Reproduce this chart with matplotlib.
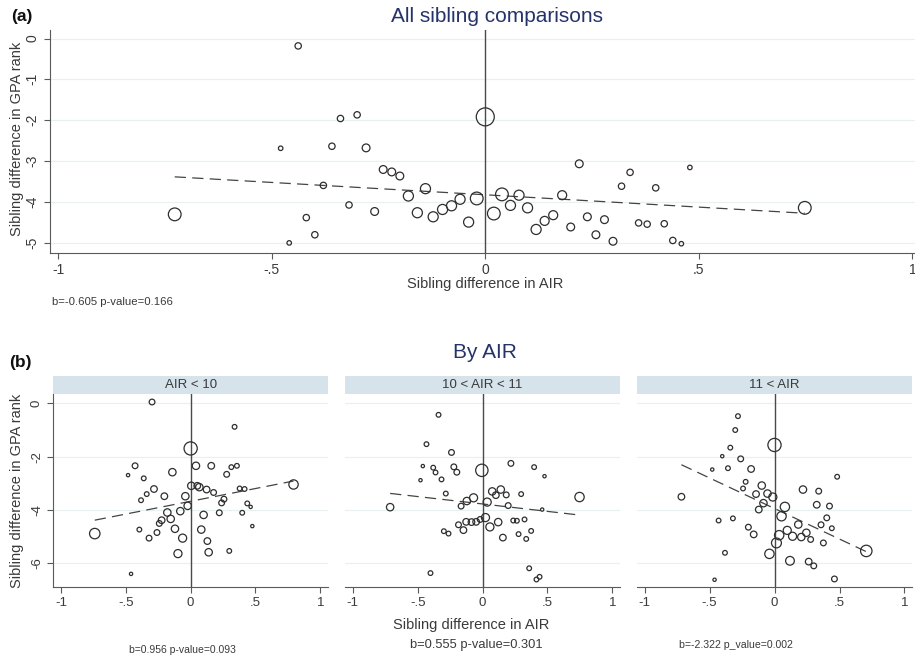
import numpy as np
import matplotlib.pyplot as plt

W, H = 915, 656

# ---- panel (a): all sibling comparisons ----
a_x = [-0.438, -0.479, -0.339, -0.300, -0.359, -0.279, -0.239, -0.219, -0.200, -0.379,
       -0.140, -0.180, -0.319, -0.259, -0.159, -0.122, -0.100, -0.079, -0.727, -0.419,
       -0.399, -0.459, 0.000, 0.220, 0.339, 0.479, 0.319, 0.399, -0.059, -0.020,
       -0.039, 0.020, 0.039, 0.079, 0.059, 0.099, 0.180, 0.119, 0.139, 0.159,
       0.200, 0.239, 0.279, 0.259, 0.299, 0.359, 0.379, 0.419, 0.439, 0.459, 0.748]
a_y = [-0.18, -2.69, -1.96, -1.87, -2.64, -2.68, -3.21, -3.27, -3.37, -3.60,
       -3.68, -3.86, -4.08, -4.24, -4.27, -4.37, -4.19, -4.10, -4.31, -4.39,
       -4.81, -5.01, -1.92, -3.07, -3.28, -3.16, -3.62, -3.66, -3.94, -3.92,
       -4.50, -4.29, -3.82, -3.84, -4.09, -4.15, -3.84, -4.68, -4.47, -4.33,
       -4.62, -4.37, -4.44, -4.81, -4.97, -4.52, -4.55, -4.54, -4.95, -5.03, -4.15]
a_w = [2, 1, 2, 2, 2, 3, 3, 3, 3, 2,
       5, 5, 2, 3, 5, 5, 5, 5, 8, 2,
       2, 1, 16, 3, 2, 1, 2, 2, 5, 8,
       5, 8, 8, 5, 5, 5, 4, 5, 4, 4,
       3, 3, 3, 3, 3, 2, 2, 2, 2, 1, 8]
a_fit = (-3.83, -0.605)
a_note = "b=-0.605 p-value=0.166"

# ---- panel (b): by AIR ----
strip_labels = ["AIR < 10", "10 < AIR < 11", "11 < AIR"]

b1_x = [-0.298, 0.339, 0.000, -0.429, -0.483, -0.362, -0.141, 0.041, 0.159, 0.314,
        0.357, 0.278, -0.283, -0.203, -0.339, -0.383, -0.041, 0.005, 0.051, 0.067,
        0.123, 0.177, 0.378, 0.416, 0.794, 0.257, 0.239, 0.437, 0.463, -0.023,
        -0.080, -0.180, 0.100, 0.221, 0.398, -0.154, -0.224, -0.242, -0.121, 0.082,
        -0.396, -0.260, -0.321, -0.062, -0.740, 0.476, 0.129, -0.098, 0.139, 0.298, -0.460]
b1_y = [0.05, -0.88, -1.69, -2.34, -2.69, -2.81, -2.58, -2.34, -2.34, -2.39,
        -2.34, -2.66, -3.21, -3.48, -3.40, -3.63, -3.48, -3.09, -3.09, -3.14,
        -3.23, -3.34, -3.19, -3.21, -3.04, -3.59, -3.73, -3.75, -3.88, -3.84,
        -4.04, -4.09, -4.18, -4.10, -4.10, -4.33, -4.38, -4.50, -4.70, -4.73,
        -4.73, -4.84, -5.05, -5.05, -4.88, -4.60, -5.16, -5.63, -5.58, -5.53, -6.39]
b1_w = [3, 2, 16, 3, 1, 2, 5, 5, 4, 2,
        2, 3, 4, 4, 2, 2, 5, 5, 4, 5,
        4, 3, 2, 2, 8, 3, 3, 2, 1, 5,
        5, 5, 5, 3, 2, 5, 4, 3, 5, 5,
        2, 3, 3, 6, 10, 1, 4, 6, 5, 2, 1]

b2_x = [-0.339, -0.432, -0.239, -0.460, -0.380, -0.362, -0.221, -0.198, -0.478, -0.316,
        -0.005, 0.219, 0.398, 0.478, -0.283, 0.075, 0.141, 0.103, 0.183, 0.298,
        0.748, -0.069, 0.036, -0.121, -0.165, 0.198, -0.712, 0.460, 0.023, -0.018,
        -0.049, -0.085, -0.126, -0.185, -0.147, 0.057, 0.121, 0.237, 0.265, 0.324,
        -0.298, -0.262, 0.157, 0.278, 0.375, 0.337, -0.401, 0.360, 0.440, 0.416]
b2_y = [-0.43, -1.53, -1.84, -2.35, -2.41, -2.59, -2.38, -2.58, -2.88, -2.85,
        -2.51, -2.25, -2.39, -2.73, -3.38, -3.30, -3.23, -3.44, -3.43, -3.40,
        -3.51, -3.54, -3.70, -3.66, -3.85, -3.83, -3.89, -3.98, -4.28, -4.35,
        -4.44, -4.45, -4.44, -4.55, -4.75, -4.63, -4.45, -4.39, -4.40, -4.35,
        -4.79, -4.88, -5.03, -4.90, -4.78, -5.08, -6.36, -6.18, -6.50, -6.60]
b2_w = [2, 2, 3, 1, 2, 2, 3, 3, 1, 2,
        14, 3, 2, 1, 2, 5, 5, 4, 3, 2,
        8, 6, 6, 5, 3, 3, 5, 1, 6, 3,
        4, 4, 4, 3, 4, 6, 5, 2, 2, 2,
        2, 2, 4, 2, 2, 2, 2, 2, 2, 2]

b3_x = [-0.281, -0.302, 0.000, -0.340, -0.402, -0.260, -0.358, -0.479, -0.180, 0.482,
        -0.222, -0.242, -0.098, -0.142, -0.054, -0.013, 0.219, 0.340, -0.716, -0.085,
        -0.121, 0.080, 0.325, 0.423, 0.054, 0.402, 0.358, 0.441, -0.430, -0.320,
        -0.201, -0.160, 0.183, 0.098, 0.036, 0.015, 0.139, 0.206, 0.245, 0.278,
        0.376, 0.706, -0.381, -0.039, 0.119, 0.263, 0.302, 0.461, -0.461]
b3_y = [-0.48, -1.00, -1.56, -1.66, -1.98, -2.08, -2.43, -2.48, -2.46, -2.75,
        -2.94, -3.19, -3.08, -3.40, -3.38, -3.51, -3.23, -3.29, -3.50, -3.74,
        -3.98, -3.88, -3.80, -3.85, -4.23, -4.29, -4.55, -4.68, -4.39, -4.31,
        -4.64, -4.91, -4.54, -4.76, -4.94, -5.23, -4.98, -5.01, -4.85, -5.10,
        -5.23, -5.53, -5.60, -5.64, -5.90, -5.93, -6.09, -6.58, -6.61]
b3_w = [2, 2, 16, 2, 1, 3, 2, 1, 4, 2,
        2, 2, 5, 4, 5, 6, 5, 3, 4, 5,
        4, 8, 4, 3, 8, 3, 3, 2, 2, 2,
        3, 4, 5, 6, 8, 9, 6, 5, 5, 3,
        3, 12, 2, 8, 7, 4, 3, 3, 1]

b_fits = [(-3.67, 0.956), (-3.77, -0.555), (-3.94, -2.29)]
b_notes = ["b=0.956 p-value=0.093", "b=0.555 p-value=0.301", "b=-2.322 p_value=0.002"]

plt.rcParams['font.family'] = ['Liberation Sans', 'DejaVu Sans']

navy = '#25336a'
txt = '#3a3a3a'
axc = '#5a5a5a'
grid_c = '#e8f0f1'
strip_c = '#d6e3ea'


def fx(px):
    return px / W


def fy(py):
    return 1 - py / H


def style_axis(ax, size, show_y=True):
    for s in ['top', 'right']:
        ax.spines[s].set_visible(False)
    ax.spines['bottom'].set_color(axc)
    ax.spines['left'].set_color(axc)
    ax.spines['left'].set_visible(show_y)
    ax.tick_params(direction='out', length=4, color=axc, labelcolor=txt, labelsize=size)
    ax.tick_params(axis='y', labelrotation=90, left=show_y, labelleft=show_y)
    for lab in ax.get_yticklabels():
        lab.set_va('center')
    ax.set_facecolor('white')


def draw_scatter(ax, x, y, w, fit, scale_px, yticks):
    for t in yticks:
        ax.axhline(t, color=grid_c, lw=0.9, zorder=0)
    ax.axvline(0, color='#4a4a4a', lw=1.0, zorder=1)
    d_pt = scale_px * np.sqrt(np.array(w)) * 0.72
    ax.scatter(x, y, s=d_pt ** 2, facecolors='none', edgecolors='#2e2e2e',
               linewidths=0.9, zorder=3)
    xs = np.array([min(x), max(x)])
    ax.plot(xs, fit[0] + fit[1] * xs, color='#444444', lw=0.9,
            dashes=(9, 5), zorder=2)


fig = plt.figure(figsize=(W / 100, H / 100), dpi=100)

# panel (a)
ax_a = fig.add_axes([fx(50), fy(252.7), fx(915 - 50), (252.7 - 30) / H])
draw_scatter(ax_a, a_x, a_y, a_w, a_fit, 4.5, [0, -1, -2, -3, -4, -5])
ax_a.set_xlim(-1.019, 1.006)
ax_a.set_ylim(-5.25, 0.21)
ax_a.set_xticks([-1, -0.5, 0, 0.5, 1])
ax_a.set_xticklabels(['-1', '-.5', '0', '.5', '1'])
ax_a.set_yticks([0, -1, -2, -3, -4, -5])
ax_a.set_yticklabels(['0', '-1', '-2', '-3', '-4', '-5'])
style_axis(ax_a, 10)

fig.text(fx(11), fy(16), "(a)", fontsize=12.5, fontweight='bold', color='#111111',
         va='center', ha='left')
fig.text(fx(497), fy(16), "All sibling comparisons", fontsize=15, color=navy,
         va='center', ha='center')
fig.text(fx(485), fy(284), "Sibling difference in AIR", fontsize=10.5, color=txt,
         va='center', ha='center')
fig.text(fx(17), fy(139), "Sibling difference in GPA rank", fontsize=10.5, color=txt,
         va='center', ha='center', rotation=90)
fig.text(fx(52), fy(302), a_note, fontsize=8.2, color=txt, va='center', ha='left')

# panel (b)
lefts = [53.3, 345, 636.7]
rights = [328, 620, 912.3]
note_x = [182, 476, 736]
note_y = [650, 645, 645]
note_size = [7.5, 9.3, 7.6]
b_data = [(b1_x, b1_y, b1_w), (b2_x, b2_y, b2_w), (b3_x, b3_y, b3_w)]
ax_top, ax_bot = 394, 586.7
for i in range(3):
    l, r = lefts[i], rights[i]
    ax = fig.add_axes([fx(l), fy(ax_bot), (r - l) / W, (ax_bot - ax_top) / H])
    x, y, w = b_data[i]
    draw_scatter(ax, x, y, w, b_fits[i], 3.3, [0, -2, -4, -6])
    ax.set_xlim(-1.06, 1.06)
    ax.set_ylim(-6.87, 0.35)
    ax.set_xticks([-1, -0.5, 0, 0.5, 1])
    ax.set_xticklabels(['-1', '-.5', '0', '.5', '1'])
    ax.set_yticks([0, -2, -4, -6])
    ax.set_yticklabels(['0', '-2', '-4', '-6'])
    style_axis(ax, 9.5, show_y=(i == 0))

    # strip header
    sax = fig.add_axes([fx(l), fy(ax_top), (r - l) / W, 18 / H])
    sax.set_facecolor(strip_c)
    sax.set_xticks([])
    sax.set_yticks([])
    for s in sax.spines.values():
        s.set_visible(False)
    sax.text(0.5, 0.5, strip_labels[i], transform=sax.transAxes, ha='center',
             va='center', fontsize=9.5, color=txt)

    fig.text(fx(note_x[i]), fy(note_y[i]), b_notes[i], fontsize=note_size[i],
             color=txt, va='center', ha='center')

fig.text(fx(9), fy(362), "(b)", fontsize=12.5, fontweight='bold', color='#111111',
         va='center', ha='left')
fig.text(fx(485), fy(352), "By AIR", fontsize=15, color=navy, va='center', ha='center')
fig.text(fx(471), fy(625), "Sibling difference in AIR", fontsize=10.5, color=txt,
         va='center', ha='center')
fig.text(fx(17), fy(491), "Sibling difference in GPA rank", fontsize=10.5, color=txt,
         va='center', ha='center', rotation=90)

fig.savefig("out.png", dpi=100, facecolor='white')
